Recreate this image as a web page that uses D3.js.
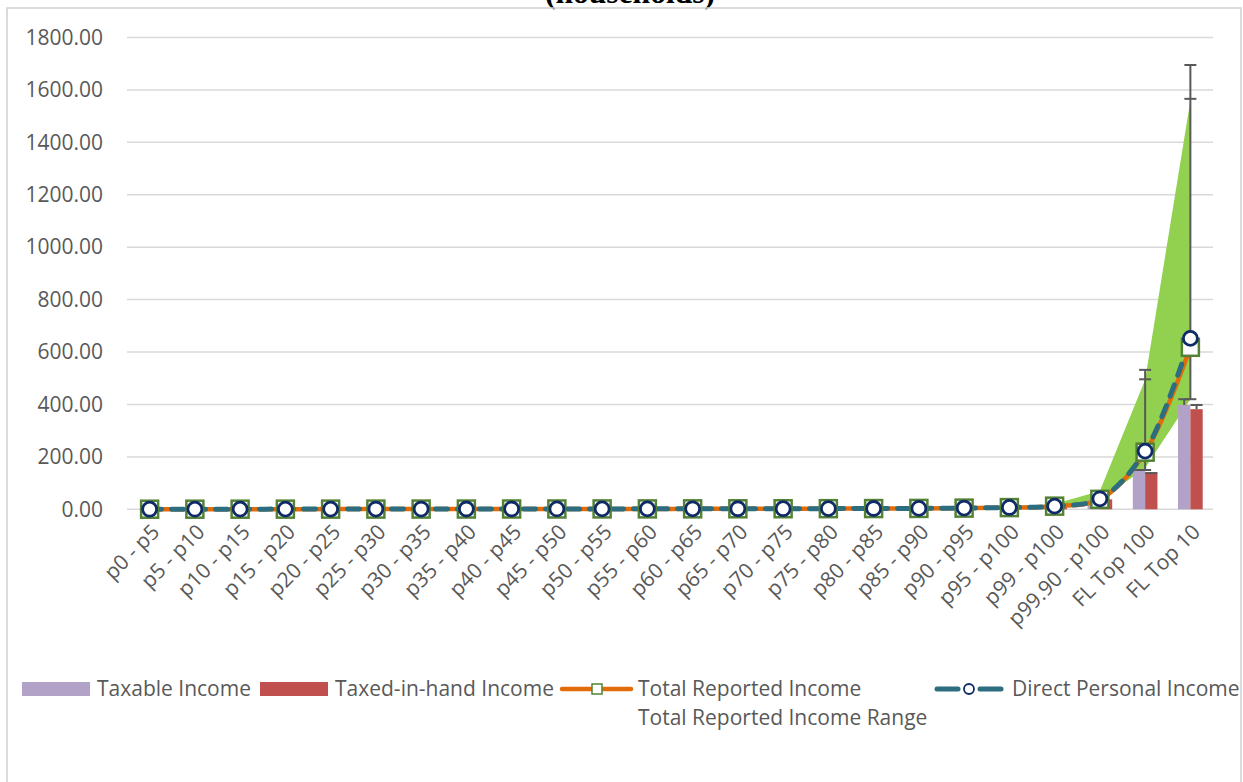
<!DOCTYPE html>
<html>
<head>
<meta charset="utf-8">
<script src="https://cdn.jsdelivr.net/npm/d3@7"></script>
<style>
  body { margin: 0; background: #fff; }
  text { font-family: "Open Sans", sans-serif; fill: #595959; }
</style>
</head>
<body>
<div id="chart"></div>
<script>
// categories and series
const categories = ["p0 - p5", "p5 - p10", "p10 - p15", "p15 - p20", "p20 - p25", "p25 - p30",
  "p30 - p35", "p35 - p40", "p40 - p45", "p45 - p50", "p50 - p55", "p55 - p60", "p60 - p65",
  "p65 - p70", "p70 - p75", "p75 - p80", "p80 - p85", "p85 - p90", "p90 - p95", "p95 - p100",
  "p99 - p100", "p99.90 - p100", "FL Top 100", "FL Top 10"];

const taxableIncome = [0.1, 0.2, 0.2, 0.3, 0.3, 0.4, 0.4, 0.5, 0.5, 0.6, 0.7, 0.7, 0.8, 0.9,
  1.0, 1.1, 1.3, 1.5, 2.0, 3.5, 9, 36, 147, 398];
const taxedInHandIncome = [0.1, 0.1, 0.2, 0.2, 0.3, 0.3, 0.4, 0.4, 0.5, 0.5, 0.6, 0.7, 0.7, 0.8,
  0.9, 1.0, 1.2, 1.4, 1.9, 3.3, 8.5, 38, 141, 382];
const totalReportedIncome = [0.3, 0.4, 0.5, 0.6, 0.7, 0.8, 0.9, 1.0, 1.1, 1.2, 1.4, 1.5, 1.7, 1.9,
  2.1, 2.4, 2.8, 3.3, 4.5, 6.5, 12, 38, 218, 618];
const directPersonalIncome = [0.4, 0.5, 0.6, 0.7, 0.8, 0.9, 1.0, 1.1, 1.2, 1.4, 1.5, 1.7, 1.9, 2.1,
  2.3, 2.6, 3.0, 3.5, 4.8, 7.0, 12, 40, 222, 652];
const rangeLow = [0.2, 0.3, 0.4, 0.5, 0.6, 0.7, 0.8, 0.9, 1.0, 1.1, 1.3, 1.4, 1.6, 1.8,
  2.0, 2.3, 2.7, 3.1, 4.2, 6.0, 9, 34, 158, 420];
const rangeHigh = [0.4, 0.5, 0.6, 0.7, 0.8, 0.9, 1.0, 1.1, 1.2, 1.3, 1.5, 1.6, 1.8, 2.0,
  2.2, 2.5, 2.9, 3.5, 5.0, 7.5, 20, 70, 494, 1560];

// error bars (only the two top groups show any)
const taxableErr = [null, null, null, null, null, null, null, null, null, null, null, null, null, null,
  null, null, null, null, null, null, null, null, 150, 420];
const taxedErr = [null, null, null, null, null, null, null, null, null, null, null, null, null, null,
  null, null, null, null, null, null, null, null, 138, 398];
const directUpperErr = [null, null, null, null, null, null, null, null, null, null, null, null, null, null,
  null, null, null, null, null, null, null, null, 532, 1695];
const totalUpperErr = [null, null, null, null, null, null, null, null, null, null, null, null, null, null,
  null, null, null, null, null, null, null, null, 496, 1566];
const totalLowerErr = [null, null, null, null, null, null, null, null, null, null, null, null, null, null,
  null, null, null, null, null, null, null, null, 150, 420];

const yTicks = [0, 200, 400, 600, 800, 1000, 1200, 1400, 1600, 1800];

const width = 1243, height = 782;
const plotLeft = 127, plotRight = 1213, plotTop = 37.5, plotBottom = 509.3;
const fontSize = "21px";

const svg = d3.select("#chart").append("svg")
  .attr("width", width).attr("height", height);

// title (only its last line is in view) and chart border
svg.append("text")
  .attr("x", 630).attr("y", 3)
  .attr("text-anchor", "middle")
  .style("font-family", "'Liberation Serif', serif")
  .style("font-weight", "bold")
  .style("font-size", "31.5px")
  .style("fill", "#000")
  .text("(households)");

svg.append("rect")
  .attr("x", 7).attr("y", 8)
  .attr("width", 1234).attr("height", 800)
  .attr("fill", "none")
  .attr("stroke", "#d0d0d0")
  .attr("stroke-width", 1.5);

const x = d3.scaleBand().domain(categories).range([plotLeft, plotRight]);
const y = d3.scaleLinear().domain([0, 1800]).range([plotBottom, plotTop]);
const cx = d => x(d) + x.bandwidth() / 2;

// gridlines
svg.append("g")
  .selectAll("line")
  .data(yTicks)
  .join("line")
  .attr("x1", plotLeft).attr("x2", plotRight)
  .attr("y1", d => y(d)).attr("y2", d => y(d))
  .attr("stroke", "#d9d9d9")
  .attr("stroke-width", 1.5);

// y axis labels
const yAxis = svg.append("g")
  .attr("transform", `translate(${plotLeft - 24},0)`)
  .call(d3.axisLeft(y).tickValues(yTicks).tickFormat(d3.format(".2f")).tickSize(0).tickPadding(0));
yAxis.select(".domain").remove();
yAxis.selectAll("text")
  .style("font-family", "'Open Sans', sans-serif")
  .style("font-size", fontSize)
  .attr("fill", "#595959");

// x axis labels
const xAxis = svg.append("g")
  .attr("transform", `translate(0,${plotBottom})`)
  .call(d3.axisBottom(x).tickSize(0).tickPadding(0));
xAxis.select(".domain").remove();
xAxis.selectAll("text")
  .style("font-family", "'Open Sans', sans-serif")
  .style("font-size", fontSize)
  .attr("fill", "#595959")
  .attr("text-anchor", "end")
  .attr("dy", null)
  .attr("y", 0)
  .attr("transform", "translate(11,24) rotate(-45)");

// range area
const rows = categories.map((c, i) => ({
  c, i,
  taxable: taxableIncome[i], taxed: taxedInHandIncome[i],
  total: totalReportedIncome[i], direct: directPersonalIncome[i],
  lo: rangeLow[i], hi: rangeHigh[i]
}));

svg.append("path")
  .datum(rows)
  .attr("fill", "#92d050")
  .attr("d", d3.area().x(d => cx(d.c)).y0(d => y(d.lo)).y1(d => y(d.hi)));

// bars
const inner = d3.scaleBand().domain(["taxable", "taxed"])
  .range([0, x.bandwidth() * 0.545]);
const barOff = x.bandwidth() * (1 - 0.545) / 2;
const barColors = { taxable: "#b3a2c7", taxed: "#c0504d" };

svg.append("g")
  .selectAll("g")
  .data(rows)
  .join("g")
  .attr("transform", d => `translate(${x(d.c) + barOff},0)`)
  .selectAll("rect")
  .data(d => ["taxable", "taxed"].map(k => ({ k, v: d[k] })))
  .join("rect")
  .attr("x", d => inner(d.k))
  .attr("width", inner.bandwidth())
  .attr("y", d => y(d.v))
  .attr("height", d => y(0) - y(d.v))
  .attr("fill", d => barColors[d.k]);

// error bars
const errG = svg.append("g").attr("stroke", "#595959").attr("stroke-width", 2);
const capW = 6;
function cap(xp, v) {
  errG.append("line").attr("x1", xp - capW).attr("x2", xp + capW)
    .attr("y1", y(v)).attr("y2", y(v));
}
rows.forEach(d => {
  const i = d.i;
  const xt = x(d.c) + barOff + inner("taxable") + inner.bandwidth() / 2;
  const xr = x(d.c) + barOff + inner("taxed") + inner.bandwidth() / 2;
  if (taxableErr[i] != null) {
    errG.append("line").attr("x1", xt).attr("x2", xt)
      .attr("y1", y(d.taxable)).attr("y2", y(taxableErr[i]));
    cap(xt, taxableErr[i]);
  }
  if (taxedErr[i] != null) {
    errG.append("line").attr("x1", xr).attr("x2", xr)
      .attr("y1", y(d.taxed)).attr("y2", y(taxedErr[i]));
    cap(xr, taxedErr[i]);
  }
  if (directUpperErr[i] != null) {
    const xc = cx(d.c);
    errG.append("line").attr("x1", xc).attr("x2", xc)
      .attr("y1", y(totalLowerErr[i])).attr("y2", y(directUpperErr[i]));
    cap(xc, directUpperErr[i]);
    cap(xc, totalUpperErr[i]);
    cap(xc, totalLowerErr[i]);
  }
});

// lines
const curve = d3.curveCatmullRom.alpha(0.5);
svg.append("path")
  .datum(rows)
  .attr("fill", "none")
  .attr("stroke", "#e36c0a")
  .attr("stroke-width", 4.5)
  .attr("d", d3.line().curve(curve).x(d => cx(d.c)).y(d => y(d.total)));

svg.append("path")
  .datum(rows)
  .attr("fill", "none")
  .attr("stroke", "#2c6e7f")
  .attr("stroke-width", 5)
  .attr("stroke-linecap", "round")
  .attr("stroke-dasharray", "12,10")
  .attr("d", d3.line().curve(curve).x(d => cx(d.c)).y(d => y(d.direct)));

// markers
svg.append("g")
  .selectAll("rect")
  .data(rows)
  .join("rect")
  .attr("x", d => cx(d.c) - 8.5).attr("y", d => y(d.total) - 8.5)
  .attr("width", 17).attr("height", 17)
  .attr("fill", "#fff")
  .attr("stroke", "#548235")
  .attr("stroke-width", 2.5);

svg.append("g")
  .selectAll("circle")
  .data(rows)
  .join("circle")
  .attr("cx", d => cx(d.c)).attr("cy", d => y(d.direct))
  .attr("r", 7)
  .attr("fill", "#fff")
  .attr("stroke", "#0f2a66")
  .attr("stroke-width", 2.8);

// legend
const lg = svg.append("g").style("font-size", fontSize);
const ly = 689;
lg.append("rect").attr("x", 22).attr("y", ly - 7).attr("width", 68).attr("height", 14).attr("fill", barColors.taxable);
lg.append("text").attr("x", 97).attr("y", ly + 7).text("Taxable Income");
lg.append("rect").attr("x", 260).attr("y", ly - 7).attr("width", 68).attr("height", 14).attr("fill", barColors.taxed);
lg.append("text").attr("x", 335).attr("y", ly + 7).text("Taxed-in-hand Income");

lg.append("line").attr("x1", 562).attr("x2", 631).attr("y1", ly).attr("y2", ly)
  .attr("stroke", "#e36c0a").attr("stroke-width", 4.5).attr("stroke-linecap", "round");
lg.append("rect").attr("x", 592).attr("y", ly - 5).attr("width", 10).attr("height", 10)
  .attr("fill", "#fff").attr("stroke", "#548235").attr("stroke-width", 1.5);
lg.append("text").attr("x", 638).attr("y", ly + 7).text("Total Reported Income");
lg.append("text").attr("x", 638).attr("y", ly + 36).text("Total Reported Income Range");

lg.append("line").attr("x1", 937).attr("x2", 958).attr("y1", ly).attr("y2", ly)
  .attr("stroke", "#2c6e7f").attr("stroke-width", 5).attr("stroke-linecap", "round");
lg.append("line").attr("x1", 980).attr("x2", 1001).attr("y1", ly).attr("y2", ly)
  .attr("stroke", "#2c6e7f").attr("stroke-width", 5).attr("stroke-linecap", "round");
lg.append("circle").attr("cx", 969).attr("cy", ly).attr("r", 5)
  .attr("fill", "#fff").attr("stroke", "#0f2a66").attr("stroke-width", 1.8);
lg.append("text").attr("x", 1012).attr("y", ly + 7).text("Direct Personal Income");
</script>
</body>
</html>
